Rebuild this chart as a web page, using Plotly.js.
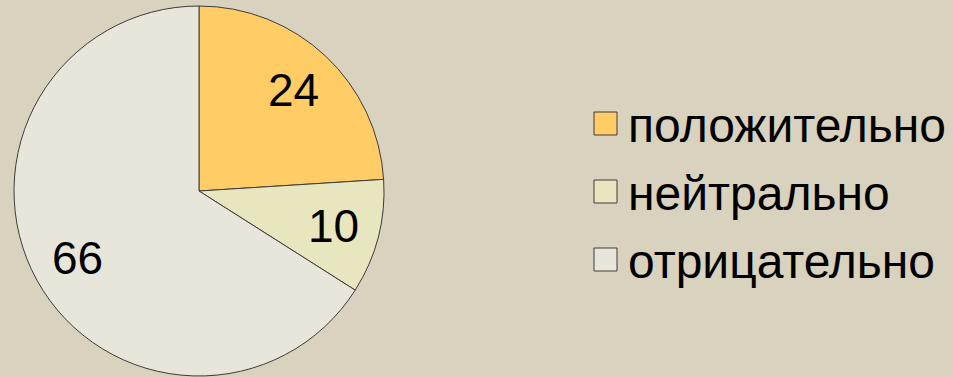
<!DOCTYPE html>
<html>
<head>
<meta charset="utf-8">
<script src="https://cdn.plot.ly/plotly-3.0.1.min.js"></script>
<style>html,body{margin:0;padding:0;background:#D8D2BE;}#chart{width:953px;height:377px;}</style>
</head>
<body>
<div id="chart"></div>
<script>
const labels = ["положительно", "нейтрально", "отрицательно"];
const values = [24, 10, 66];
const colors = ["#FFCC66", "#E8E6BE", "#E8E6DA"];

const W = 953, H = 377;
const cx = 199, cy = 191, R = 185;
const trace = {
  type: "pie",
  labels: labels,
  values: values,
  sort: false,
  direction: "clockwise",
  rotation: 0,
  marker: {colors: colors, line: {color: "#3C3C3C", width: 1}},
  textinfo: "none",
  textposition: "none",
  hoverinfo: "label+value",
  showlegend: false,
  domain: {x: [(cx - R) / W, (cx + R) / W], y: [(H - cy - R) / H, (H - cy + R) / H]}
};

const shapes = [], annotations = [];
// slice value labels, placed at the middle angle of each slice
const total = values.reduce((a, b) => a + b, 0);
let cum = 0;
values.forEach((v) => {
  const th = (cum + v / 2) / total * 2 * Math.PI;
  cum += v;
  const r = 0.75 * R;
  annotations.push({
    xref: "paper", yref: "paper",
    x: (cx + r * Math.sin(th)) / W, y: 1 - (cy - r * Math.cos(th)) / H,
    xanchor: "center", yanchor: "middle", showarrow: false, text: String(v),
    font: {family: "Liberation Sans, Arial", size: 46, color: "#000"}
  });
});

// custom legend built from the data arrays
const legX = 594, legY0 = 123.5, legStep = 68, box = 23;
labels.forEach((lab, i) => {
  const ly = legY0 + i * legStep;
  shapes.push({
    type: "rect", xref: "paper", yref: "paper",
    x0: legX / W, x1: (legX + box) / W,
    y0: 1 - (ly + box / 2) / H, y1: 1 - (ly - box / 2) / H,
    fillcolor: colors[i], line: {color: "#3C3C3C", width: 1}
  });
  annotations.push({
    xref: "paper", yref: "paper", x: (legX + box + 9) / W, y: 1 - (ly + 2) / H,
    xanchor: "left", yanchor: "middle", showarrow: false, text: lab,
    font: {family: "Liberation Sans, Arial", size: 48, color: "#000"}
  });
});

Plotly.newPlot("chart", [trace], {
  width: W, height: H,
  margin: {l: 0, r: 0, t: 0, b: 0},
  paper_bgcolor: "#D8D2BE",
  plot_bgcolor: "#D8D2BE",
  showlegend: false,
  shapes: shapes,
  annotations: annotations
}, {displayModeBar: false, staticPlot: true});
</script>
</body>
</html>
